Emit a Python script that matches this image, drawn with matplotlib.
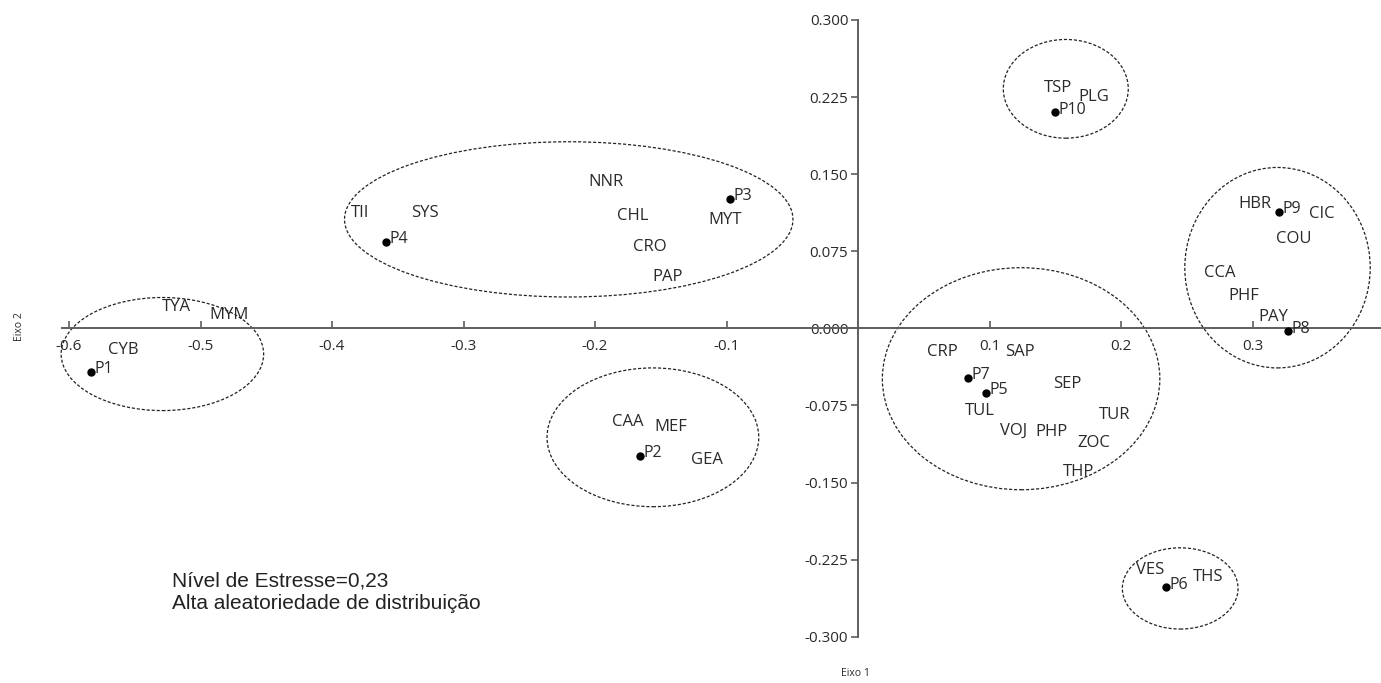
import matplotlib
matplotlib.use("Agg")
import matplotlib.pyplot as plt
from matplotlib.patches import Ellipse

# sites (points) in axis units
site_names = ["P1", "P2", "P3", "P4", "P5", "P6", "P7", "P8", "P9", "P10"]
site_x = [-0.583, -0.166, -0.097, -0.359, 0.097, 0.234, 0.084, 0.327, 0.320, 0.150]
site_y = [-0.042, -0.124, 0.126, 0.084, -0.063, -0.252, -0.048, -0.003, 0.113, 0.210]

# species labels
species_names = [
    "TYA", "MYM", "CYB",
    "TII", "SYS", "NNR", "CHL", "CRO", "PAP", "MYT",
    "CAA", "MEF", "GEA",
    "TSP", "PLG",
    "HBR", "CIC", "COU", "CCA", "PHF", "PAY",
    "CRP", "SAP", "SEP", "TUL", "TUR", "VOJ", "PHP", "ZOC", "THP",
    "VES", "THS",
]
species_x = [
    -0.518, -0.478, -0.559,
    -0.379, -0.329, -0.192, -0.171, -0.158, -0.145, -0.101,
    -0.175, -0.142, -0.115,
    0.152, 0.179,
    0.302, 0.353, 0.331, 0.275, 0.293, 0.316,
    0.064, 0.123, 0.159, 0.093, 0.195, 0.118, 0.147, 0.179, 0.168,
    0.222, 0.266,
]
species_y = [
    0.021, 0.013, -0.021,
    0.112, 0.112, 0.142, 0.109, 0.079, 0.050, 0.105,
    -0.091, -0.096, -0.128,
    0.234, 0.225,
    0.121, 0.111, 0.087, 0.054, 0.031, 0.011,
    -0.023, -0.023, -0.054, -0.080, -0.084, -0.100, -0.101, -0.112, -0.140,
    -0.235, -0.242,
]

# groups drawn as dashed ellipses: centre, width, height
group_cx = [-0.529, -0.220, -0.156, 0.158, 0.319, 0.124, 0.245]
group_cy = [-0.025, 0.106, -0.106, 0.233, 0.059, -0.049, -0.253]
group_w = [0.154, 0.341, 0.161, 0.095, 0.141, 0.211, 0.088]
group_h = [0.110, 0.151, 0.135, 0.096, 0.195, 0.216, 0.079]

x_ticks = [-0.6, -0.5, -0.4, -0.3, -0.2, -0.1, 0.1, 0.2, 0.3]
y_ticks = [-0.300, -0.225, -0.150, -0.075, 0.000, 0.075, 0.150, 0.225, 0.300]

stress_text = "Nível de Estresse=0,23\nAlta aleatoriedade de distribuição"

plt.rcParams["font.family"] = ["Open Sans", "DejaVu Sans"]

fig = plt.figure(figsize=(13.81, 6.83), dpi=100)
ax = fig.add_axes([0, 0, 1, 1])
ax.set_xlim(-0.6525, 0.3977)
ax.set_ylim(-0.345, 0.3194)

axis_color = "#5e5e5e"
text_color = "#2a2a2a"

# axes crossing at the origin
for side in ["top", "right"]:
    ax.spines[side].set_visible(False)
ax.spines["left"].set_position(("data", 0))
ax.spines["bottom"].set_position(("data", 0))
ax.spines["left"].set_bounds(-0.3, 0.3)
ax.spines["bottom"].set_bounds(-0.605, 0.3977)
for side in ["left", "bottom"]:
    ax.spines[side].set_color(axis_color)
    ax.spines[side].set_linewidth(1.4)

ax.set_xticks(x_ticks)
ax.set_xticklabels([f"{v:.1f}" for v in x_ticks])
ax.set_yticks(y_ticks)
ax.set_yticklabels([f"{v:.3f}" for v in y_ticks])
ax.tick_params(axis="x", direction="in", length=5, width=1.2,
               color=axis_color, labelsize=11, labelcolor=text_color, pad=8)
ax.tick_params(axis="y", direction="out", length=5, width=1.2,
               color=axis_color, labelsize=11, labelcolor=text_color, pad=2)

# ellipses
for cx, cy, w, h in zip(group_cx, group_cy, group_w, group_h):
    ax.add_patch(Ellipse(
        (cx, cy), w, h,
        fill=False,
        edgecolor="#222222",
        linestyle=(0, (2.5, 1.5)),
        linewidth=0.9
    ))

# sites
ax.plot(site_x, site_y, "o", color="black", markersize=5, zorder=3)
for name, x, y in zip(site_names, site_x, site_y):
    ax.annotate(
        name, (x, y),
        xytext=(2.5, 2),
        textcoords="offset points",
        ha="left", va="center",
        fontsize=11.5, color=text_color
    )

# species
for name, x, y in zip(species_names, species_x, species_y):
    ax.text(x, y, name, ha="center", va="center",
            fontsize=12, color=text_color)

ax.text(-0.5217, -0.257, stress_text, ha="left", va="center",
        fontsize=15, family="Liberation Sans", color="#222222",
        linespacing=1.25)

fig.text(20 / 1381, 1 - 327 / 683, "Eixo 2", rotation=90,
         ha="center", va="center", fontsize=7.5, color=text_color)
fig.text(855 / 1381, 1 - 674 / 683, "Eixo 1",
         ha="center", va="center", fontsize=7.5, color=text_color)

fig.savefig("out.png", dpi=100)
